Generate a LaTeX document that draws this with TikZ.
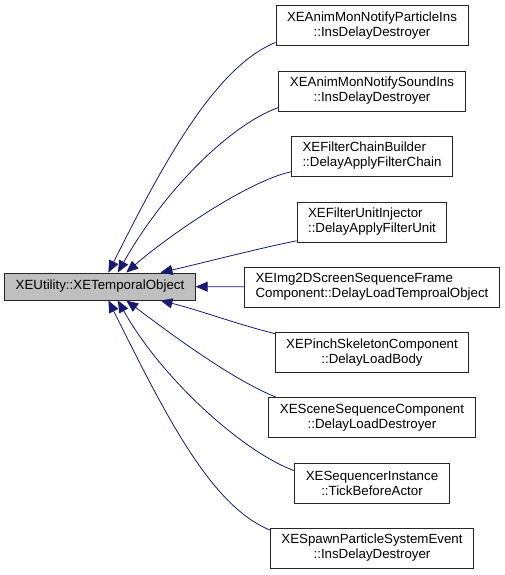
\documentclass[tikz,border=0pt]{standalone}
\usepackage{fontspec}
\setmainfont{Liberation Sans}
\usepackage{xcolor}
\usepackage{tikz}
\usetikzlibrary{shapes,arrows.meta}
\definecolor{edgeblue}{HTML}{191970}
\tikzstyle{block} = [rectangle, draw=black!85, line width=0.9pt, fill=white, align=center, inner xsep=11pt, inner ysep=2pt, minimum height=40pt, font=\fontsize{13.3}{15}\selectfont]
\tikzstyle{base} = [block, fill=gray!50, minimum height=27pt]
\tikzstyle{line} = [draw, edgeblue, line width=0.8pt, -{Triangle[length=12pt,width=10pt]}]

\begin{document}
\begin{tikzpicture}[x=1pt,y=-1pt]
\useasboundingbox (0,0) rectangle (505,575);

\node [base] (obj) at (100,286.5) {XEUtility::XETemporalObject};

\node [block] (sub1) at (372,25.5) {XEAnimMonNotifyParticleIns\\::InsDelayDestroyer};
\node [block] (sub2) at (372,91) {XEAnimMonNotifySoundIns\\::InsDelayDestroyer};
\node [block, align=left] (sub3) at (372,156) {XEFilterChainBuilder\\::DelayApplyFilterChain};
\node [block, align=left] (sub4) at (372,222) {XEFilterUnitInjector\\::DelayApplyFilterUnit};
\node [block, align=left] (sub5) at (372,287) {XEImg2DScreenSequenceFrame\\Component::DelayLoadTemproalObject};
\node [block] (sub6) at (372,352.5) {XEPinchSkeletonComponent\\::DelayLoadBody};
\node [block] (sub7) at (372,417.5) {XESceneSequenceComponent\\::DelayLoadDestroyer};
\node [block] (sub8) at (372,483) {XESequencerInstance\\::TickBeforeActor};
\node [block] (sub9) at (372,548) {XESpawnParticleSystemEvent\\::InsDelayDestroyer};

\path [line] (sub1.190) .. controls +(-60,24) and +(55,-110) .. (obj.59);
\path [line] (sub2.190) .. controls +(-50,18) and +(45,-80) .. (obj.38);
\path [line] (sub3.191) .. controls +(-45,10) and +(40,-35) .. (obj.28);
\path [line] (sub4.194) .. controls +(-40,8) and +(40,-9) .. (obj.13);
\path [line] (sub5) -- (obj);
\path [line] (sub6.169) .. controls +(-40,-10) and +(40,10) .. (obj.-13);
\path [line] (sub7.168) .. controls +(-45,-18) and +(40,30) .. (obj.-28);
\path [line] (sub8.171) .. controls +(-50,-18) and +(45,80) .. (obj.-38);
\path [line] (sub9.170) .. controls +(-60,-24) and +(55,110) .. (obj.-59);

\end{tikzpicture}
\end{document}
